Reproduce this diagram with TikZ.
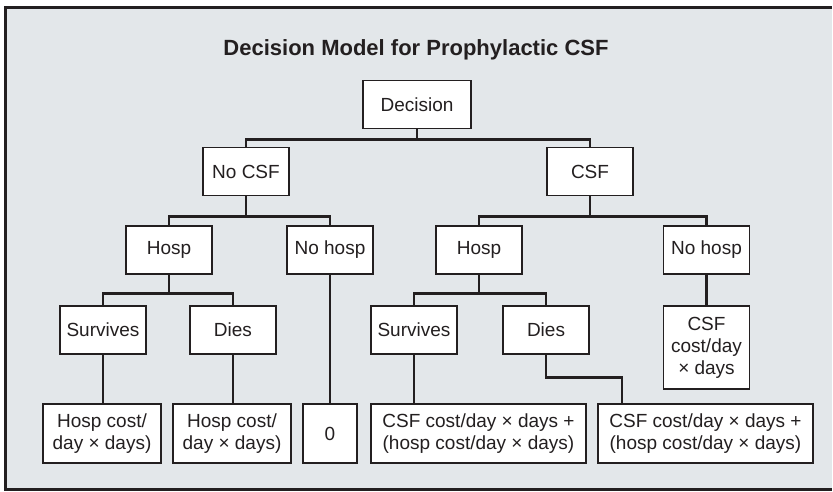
\documentclass[tikz,border=0pt]{standalone}
\usepackage{fontspec}
\setmainfont{Liberation Sans}
\definecolor{panel}{HTML}{E3E7EA}
\definecolor{ink}{HTML}{231F20}
\tikzstyle{box} = [draw=ink, line width=1.4pt, fill=white, text=ink, align=center, inner sep=0pt, font=\fontsize{19}{22}\selectfont, minimum width=86pt, minimum height=48pt]
\tikzstyle{leaf} = [box, minimum height=59pt]
\tikzstyle{line} = [draw=ink, line width=2.6pt]

\begin{document}
\begin{tikzpicture}[x=1pt, y=-1pt]
		\useasboundingbox (0,0) rectangle (833,491);
		\fill[panel] (5,7) rectangle (832,489); % Hintergrund
		\draw[ink, line width=3pt] (832,7) -- (5,7) -- (5,489) -- (832,489);
		\node [text=ink, font=\fontsize{22}{26}\selectfont\bfseries] (title) at (416,50) {Decision Model for Prophylactic CSF};
		% Ebene 1 und 2
		\node [box, minimum width=108pt] (dec) at (417,104.5) {Decision};
		\node [box] (nocsf) at (246,171.5) {No CSF};
		\node [box] (csf) at (590,171.5) {CSF};
		% Ebene 3
		\node [box] (hospL) at (169,250) {Hosp};
		\node [box] (nohospL) at (330,250) {No hosp};
		\node [box] (hospR) at (479,250) {Hosp};
		\node [box] (nohospR) at (706.5,250) {No hosp};
		% Ebene 4
		\node [box] (survL) at (103,330) {Survives};
		\node [box] (diesL) at (233,330) {Dies};
		\node [box] (survR) at (414,330) {Survives};
		\node [box] (diesR) at (546,330) {Dies};
		\node [box, minimum height=83pt] (costR) at (706.5,347.5) {CSF\\cost/day\\× days};
		% Blaetter
		\node [leaf, minimum width=118pt] (hcL) at (102,433.5) {Hosp cost/\\day × days)};
		\node [leaf, minimum width=118pt] (hcD) at (232,433.5) {Hosp cost/\\day × days)};
		\node [leaf, minimum width=54pt] (zero) at (330,433.5) {0};
		\node [leaf, minimum width=215pt] (csfS) at (478.5,433.5) {CSF cost/day × days +\\(hosp cost/day × days)};
		\node [leaf, minimum width=215pt] (csfD) at (705.5,433.5) {CSF cost/day × days +\\(hosp cost/day × days)};
		% Verbindungen
		\draw [line] (dec.south) -- ++(0,10) -| (nocsf.north);
		\draw [line] (dec.south) -- ++(0,10) -| (csf.north);
		\draw [line] (nocsf.south) -- ++(0,20) -| (hospL.north);
		\draw [line] (nocsf.south) -- ++(0,20) -| (nohospL.north);
		\draw [line] (csf.south) -- ++(0,20) -| (hospR.north);
		\draw [line] (csf.south) -- ++(0,20) -| (nohospR.north);
		\draw [line] (hospL.south) -- ++(0,19) -| (survL.north);
		\draw [line] (hospL.south) -- ++(0,19) -| (diesL.north);
		\draw [line] (hospR.south) -- ++(0,19) -| (survR.north);
		\draw [line] (hospR.south) -- ++(0,19) -| (diesR.north);
		\draw [line] (nohospR.south) -- (costR.north);
		\draw [line] (survL.south) -- (survL.south |- hcL.north);
		\draw [line] (diesL.south) -- (diesL.south |- hcD.north);
		\draw [line] (nohospL.south) -- (zero.north);
		\draw [line] (survR.south) -- (survR.south |- csfS.north);
		\draw [line] (diesR.south) -- ++(0,23) -| ([xshift=-83.5pt]csfD.north);
		
	\end{tikzpicture}
\end{document}
